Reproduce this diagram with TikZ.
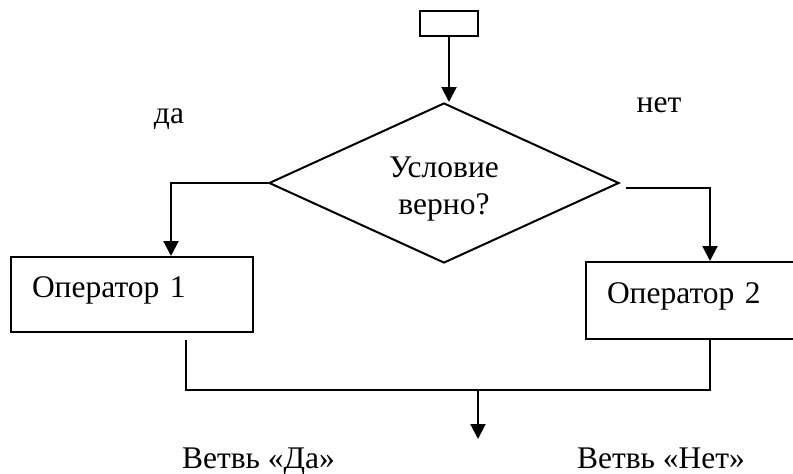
\documentclass[tikz,border=0pt]{standalone}
\usepackage{fontspec}
\setmainfont{Liberation Serif}
\usetikzlibrary{shapes.geometric,arrows.meta}

\begin{document}
\begin{tikzpicture}[x=1pt, y=-1pt, line width=2pt,
  every node/.style={font=\fontsize{31.5}{37}\selectfont},
  opbox/.style={draw, rectangle, inner ysep=0pt, inner xsep=21pt, align=left},
  condbox/.style={draw, diamond, minimum width=350pt, minimum height=160pt, inner sep=0pt},
  arr/.style={-{Triangle[width=15pt,length=15pt]}}]
  \useasboundingbox (0,0) rectangle (793,474);

  % blocks
  \node[draw, minimum width=58pt, minimum height=25pt, inner sep=0pt] (start) at (449,23.5) {};
  \node[condbox, label={[align=center, yshift=-6.5pt]center:{Условие\\верно?}}] (check) at (444,183) {};
  \node[opbox, text width=200pt, text height=40pt, text depth=35pt] (op1) at (132,294.5) {Оператор 1};
  \node[opbox, text width=202pt, text height=41pt, text depth=36pt] (op2) at (708,300.5) {Оператор 2};

  % texts
  \node[anchor=base] (yes) at (169,123) {да};
  \node[anchor=base] (no) at (659,112) {нет};
  \node[anchor=base] (yesbranch) at (258.5,468) {Ветвь «Да»};
  \node[anchor=base] (nobranch) at (661,468) {Ветвь «Нет»};

  \coordinate (merge) at (478,390);
  \coordinate (out) at (478,439);

  % connectors
  \draw[arr] (start.south) -- (start.south |- check.north);
  \draw[arr] (check.west) -| ([xshift=39pt]op1.north);
  \draw[arr] ([shift={(6pt,-5pt)}]check.east) -| ([xshift=125pt]op2.north west);
  \draw ([shift={(176pt,-7pt)}]op1.south west) |- (merge) -| ([xshift=125pt]op2.south west);
  \draw[arr] (merge) -- (out);
\end{tikzpicture}
\end{document}
